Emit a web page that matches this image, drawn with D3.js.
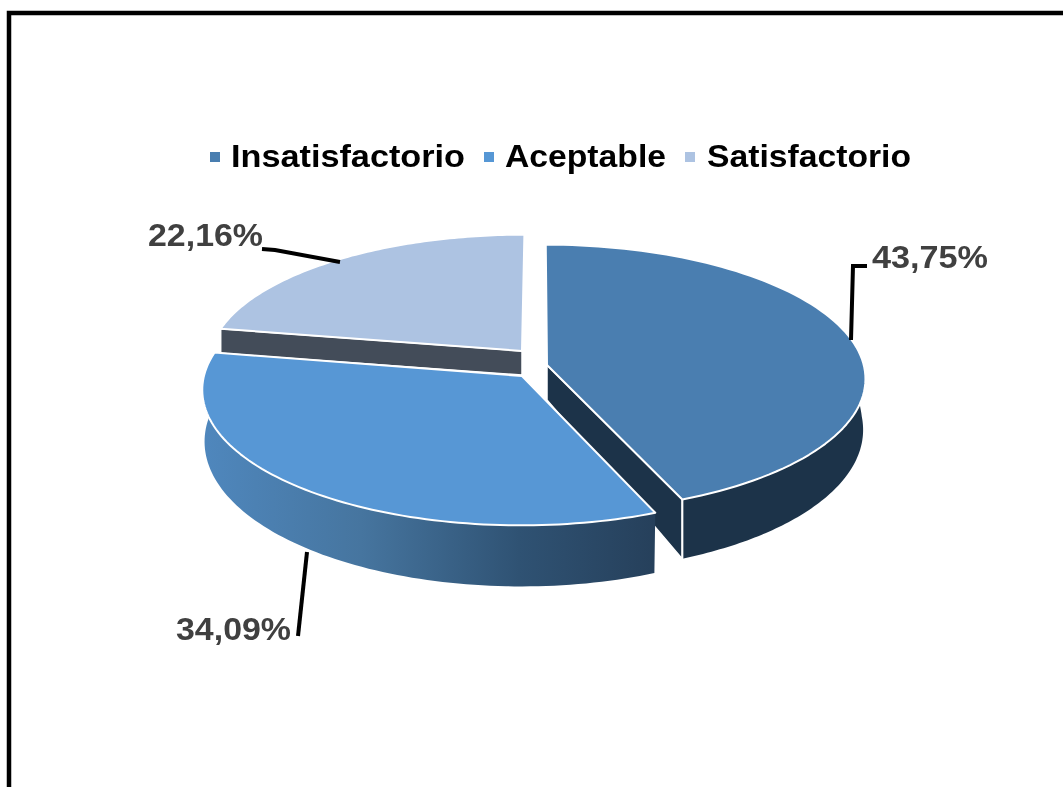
<!DOCTYPE html>
<html>
<head>
<meta charset="utf-8">
<script src="https://cdn.jsdelivr.net/npm/d3@7/dist/d3.min.js"></script>
<style>html,body{margin:0;padding:0;background:#fff;overflow:hidden}svg{display:block}text{font-family:"Liberation Sans",Arial,sans-serif;font-weight:bold}</style>
</head>
<body>
<svg id="c" width="1063" height="787"></svg>
<script>
const categories = ["Insatisfactorio", "Aceptable", "Satisfactorio"];
const values = [43.75, 34.09, 22.16];
const valueLabels = ["43,75%", "34,09%", "22,16%"];
const topColors = ["#4a7eb0", "#5797d5", "#adc3e2"];
const sideColors = ["#1c3349", "url(#sideGrad)", "#434c59"];

const svg = d3.select("#c");
const W = 1063, H = 787;
svg.append("path").attr("d", `M9,${H} V13 H${W}`).attr("fill", "none").attr("stroke", "#000").attr("stroke-width", 4.5);

const defs = svg.append("defs");
const grad = defs.append("linearGradient").attr("id", "sideGrad").attr("gradientUnits", "userSpaceOnUse")
  .attr("x1", 203).attr("x2", 655).attr("y1", 0).attr("y2", 0);
[[0, "#4f87bd"], [0.35, "#46759f"], [0.7, "#2f5273"], [1, "#26405b"]].forEach(([o, c]) =>
  grad.append("stop").attr("offset", o).attr("stop-color", c));
defs.append("filter").attr("id", "soft").attr("x", "-5%").attr("y", "-20%").attr("width", "110%").attr("height", "140%")
  .append("feGaussianBlur").attr("stdDeviation", 0.55);

// perspective projection of the pie plane
const cx = 530, cy = 367, R = 315, ry = 134, k = 0.1;
const project = (X, Y) => { const s = 1 / (1 - k * Y); return [cx + X * R * s, cy + Y * ry * s]; };
const unproject = ([ax, ay]) => {
  const dy = ay - cy, Y = dy / (ry + k * dy), s = 1 / (1 - k * Y);
  return [(ax - cx) / (R * s), Y];
};
const apexes = [[547, 365], [522, 376], [522, 351]].map(unproject);
const apexDepth = [35, 30, 24];
const sliceRx = [1.006, 1.003, 1.007];
const sliceRy = [0.99, 0.99, 0.975];
const sliceShift = [0.001, 0, 0.006];
const rimDepth = d3.scaleLinear().domain([-0.3, 0, 1]).range([24, 50, 60.5]);
const line = d3.line();

const arcs = d3.pie().sort(null)(values);
const rim = (i, a) => [apexes[i][0] + sliceShift[i] + sliceRx[i] * Math.sin(a), apexes[i][1] - sliceRy[i] * Math.cos(a)];
const rimPoints = (i, a0, a1) => d3.range(0, 91).map(t => {
  const a = a0 + (a1 - a0) * t / 90, [X, Y] = rim(i, a);
  return { p: project(X, Y), d: rimDepth(Y), inset: project(X * 0.993, Y) };
});
const down = (q) => [q.inset[0], q.inset[1] + q.d];

function drawSlice(i, wallA0, wallA1, radialAngle) {
  const d = arcs[i], g = svg.append("g");
  const ap = project(...apexes[i]);
  if (wallA0 !== null) {
    const pts = rimPoints(i, wallA0, wallA1);
    const poly = pts.map(q => q.p).concat(pts.slice().reverse().map(down));
    g.append("path").attr("d", line(poly) + "Z").attr("fill", sideColors[i]);
  }
  if (radialAngle !== null) {
    const q = rimPoints(i, radialAngle, radialAngle)[0];
    const poly = [ap, q.p, [q.p[0], q.p[1] + q.d], [ap[0], ap[1] + apexDepth[i]]];
    g.append("path").attr("d", line(poly) + "Z").attr("fill", i === 0 ? sideColors[0] : sideColors[2])
      .attr("stroke", "#fff").attr("stroke-width", 1.5);
  }
  const top = [ap].concat(rimPoints(i, d.startAngle, d.endAngle).map(q => q.p));
  g.append("path").attr("d", line(top) + "Z").attr("fill", topColors[i])
    .attr("stroke", "#fff").attr("stroke-width", 2).attr("stroke-linejoin", "round");
  if (i === 0) {
    const q = rimPoints(i, d.endAngle, d.endAngle)[0];
    g.append("path").attr("d", line([q.p, [q.p[0], q.p[1] + q.d]])).attr("stroke", "#fff").attr("stroke-width", 2);
  }
}
drawSlice(2, null, null, arcs[2].startAngle);
drawSlice(0, Math.PI / 2 - 0.1, arcs[0].endAngle, arcs[0].endAngle);
drawSlice(1, arcs[1].startAngle, Math.PI * 1.5 + 0.1, null);

// leader lines
const leaderData = [
  [[851, 340], [853, 266], [867, 266]],
  [[307, 552], [298, 636]],
  [[340, 262], [275, 250], [262, 249]]
];
const ink = svg.append("g").attr("filter", "url(#soft)");
leaderData.forEach(pts => ink.append("path").attr("d", line(pts)).attr("fill", "none")
  .attr("stroke", "#000").attr("stroke-width", 4));

// data labels
const labelBoxes = [[872, 268, 116], [176, 640, 115], [148, 246, 115]];
valueLabels.forEach((t, i) => ink.append("text").text(t)
  .attr("x", labelBoxes[i][0]).attr("y", labelBoxes[i][1])
  .attr("textLength", labelBoxes[i][2]).attr("lengthAdjust", "spacingAndGlyphs")
  .attr("font-size", 31).attr("fill", "#404040"));

// legend
const legendBoxes = [[231, 234, 210], [505, 161, 484], [707, 204, 685]];
categories.forEach((t, i) => {
  ink.append("rect").attr("x", legendBoxes[i][2]).attr("y", 152).attr("width", 10).attr("height", 10).attr("fill", topColors[i]);
  ink.append("text").text(t).attr("x", legendBoxes[i][0]).attr("y", 167)
    .attr("textLength", legendBoxes[i][1]).attr("lengthAdjust", "spacingAndGlyphs")
    .attr("font-size", 31).attr("fill", "#000");
});
</script>
</body>
</html>
